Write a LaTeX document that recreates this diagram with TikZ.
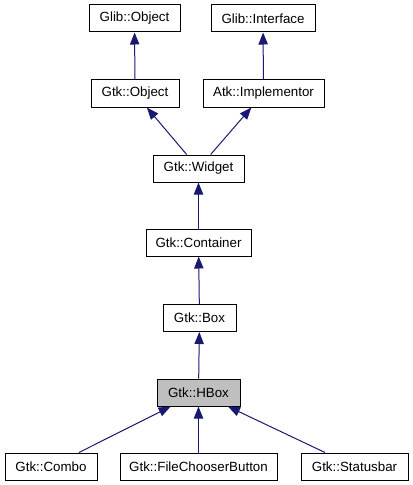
\documentclass[tikz,border=0pt]{standalone}
\usepackage{fontspec}
\setmainfont{Liberation Sans}
\usetikzlibrary{arrows.meta}
\definecolor{edgeblue}{HTML}{191970}
\definecolor{boxgray}{HTML}{BFBFBF}
\tikzset{
  cls/.style={draw=black, line width=0.75pt, fill=white, minimum height=20.25pt, inner sep=0pt, font=\fontsize{10}{12}\selectfont},
  inh/.style={draw=edgeblue, line width=0.75pt, -{Triangle[length=9pt,width=7pt]}}
}
\begin{document}
\begin{tikzpicture}[x=0.75pt, y=-0.75pt]
\useasboundingbox (0,0) rectangle (413,485);

%top row
\node[cls, minimum width=68.25pt] (glibobj) at (134.5,18.5) {Glib::Object};
\node[cls, minimum width=78pt] (glibiface) at (263,18.5) {Glib::Interface};
\node[cls, minimum width=66pt] (gtkobj) at (135,93.5) {Gtk::Object};
\node[cls, minimum width=90.75pt] (atkimpl) at (263.5,93.5) {Atk::Implementor};
%middle chain
\node[cls, minimum width=68.25pt] (widget) at (198.5,168.5) {Gtk::Widget};
\node[cls, minimum width=78.75pt] (container) at (198.5,242.5) {Gtk::Container};
\node[cls, minimum width=54.75pt] (box) at (199.5,318) {Gtk::Box};
\node[cls, minimum width=62.25pt, fill=boxgray] (hbox) at (198.5,392.5) {Gtk::HBox};
%bottom row
\node[cls, minimum width=69pt] (combo) at (51,466.5) {Gtk::Combo};
\node[cls, minimum width=117.75pt] (filechooser) at (198.5,466.5) {Gtk::FileChooserButton};
\node[cls, minimum width=80.25pt] (statusbar) at (354.5,466.5) {Gtk::Statusbar};

\draw[inh] (gtkobj) -- (glibobj);
\draw[inh] (atkimpl) -- (glibiface);
\draw[inh] (widget) -- (gtkobj);
\draw[inh] (widget) -- (atkimpl);
\draw[inh] (container) -- (widget);
\draw[inh] (box) -- (container);
\draw[inh] (hbox) -- (box);
\draw[inh] (combo) -- (hbox);
\draw[inh] (filechooser) -- (hbox);
\draw[inh] (statusbar) -- (hbox);

\end{tikzpicture}
\end{document}
